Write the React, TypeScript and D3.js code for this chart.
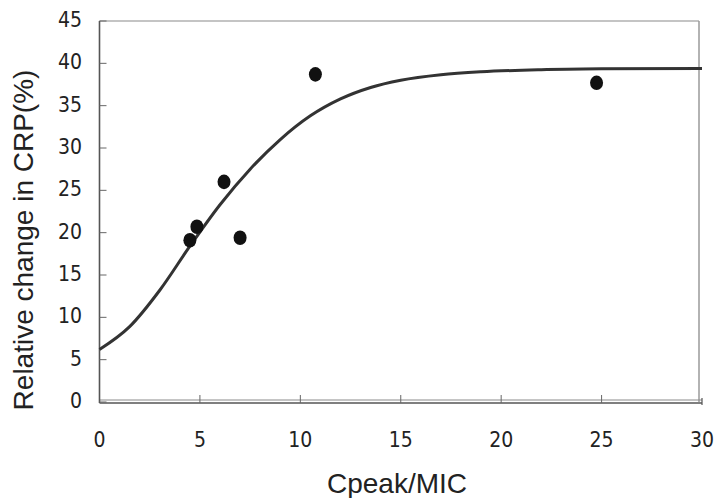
import React from 'react';
import * as d3 from 'd3';

// observed points (Cpeak/MIC vs relative CRP change)
const ratioValues = [4.5, 4.85, 6.2, 7.0, 10.75, 24.75];
const crpValues = [19.1, 20.7, 26.0, 19.4, 38.7, 37.7];

// fitted curve
const fitX = [0, 1.5, 3, 4.5, 6, 7.5, 9, 10.5, 12, 13.5, 15, 17, 19, 22, 25, 30];
const fitY = [6.2, 8.9, 13.2, 18.4, 23.3, 27.5, 31.0, 33.8, 35.8, 37.15, 38.0, 38.65, 39.0, 39.25, 39.35, 39.4];

const xTicks = [0, 5, 10, 15, 20, 25, 30];
const yTicks = [0, 5, 10, 15, 20, 25, 30, 35, 40, 45];

const width = 716;
const height = 498;
const tickFont = '"Liberation Sans Narrow", "DejaVu Sans Condensed", sans-serif';

const App = () => {
  const x = d3.scaleLinear().domain([0, 30]).range([99.5, 702]);
  const y = d3.scaleLinear().domain([0, 45]).range([402, 21]);

  const line = d3
    .line<number>()
    .x((d) => x(d))
    .y((_, i) => y(fitY[i]))
    .curve(d3.curveMonotoneX);

  return (
    <svg
      width={width}
      height={height}
      style={{ position: 'absolute', left: 0, top: 0, background: '#fff' }}
    >
      {/* frame */}
      <line x1={x(0)} x2={x(30) - 3} y1={y(45)} y2={y(45)} stroke="#8a8a8a" strokeWidth={1.2} />
      <line x1={x(30) - 3} x2={x(30) - 3} y1={y(45)} y2={y(0)} stroke="#9a9a9a" strokeWidth={1.5} />
      <line x1={x(0)} x2={x(30)} y1={y(0) - 2} y2={y(0) - 2} stroke="#8a8a8a" strokeWidth={1} />
      <line x1={x(0)} x2={x(30)} y1={y(0) + 1} y2={y(0) + 1} stroke="#555" strokeWidth={1.5} />
      <line x1={x(30)} x2={x(30)} y1={y(0) - 4} y2={y(0) + 3} stroke="#555" strokeWidth={1.2} />
      <line x1={x(0)} x2={x(0)} y1={y(45)} y2={y(0) + 1} stroke="#555" strokeWidth={1.6} />

      {/* y ticks */}
      {yTicks.map((t) => (
        <g key={'y' + t}>
          <line x1={x(0)} x2={x(0) + 7} y1={y(t)} y2={y(t)} stroke="#666" strokeWidth={1} />
          <text
            x={82}
            y={y(t)}
            textAnchor="end"
            dominantBaseline="middle"
            fontFamily={tickFont}
            fontSize={21}
            fill="#222"
          >
            {t}
          </text>
        </g>
      ))}

      {/* x ticks */}
      {xTicks.map((t) => (
        <g key={'x' + t}>
          {t > 0 && t < 30 && (
            <line x1={x(t)} x2={x(t)} y1={y(0) - 7} y2={y(0) + 1} stroke="#666" strokeWidth={1} />
          )}
          <text x={x(t)} y={447} textAnchor="middle" fontFamily={tickFont} fontSize={21} fill="#222">
            {t}
          </text>
        </g>
      ))}

      {/* fitted curve */}
      <path d={line(fitX) || ''} fill="none" stroke="#333" strokeWidth={3} />

      {/* observed points */}
      {ratioValues.map((r, i) => (
        <ellipse key={'p' + i} cx={x(r)} cy={y(crpValues[i])} rx={6.5} ry={7.3} fill="#111" />
      ))}

      {/* axis titles */}
      <text
        x={397}
        y={493}
        textAnchor="middle"
        fontFamily='"Liberation Sans", Arial, sans-serif'
        fontSize={28}
        fill="#222"
      >
        Cpeak/MIC
      </text>
      <text
        transform="translate(33,240) rotate(-90)"
        textAnchor="middle"
        fontFamily='"Liberation Sans", Arial, sans-serif'
        fontSize={28}
        fill="#222"
      >
        Relative change in CRP(%)
      </text>
    </svg>
  );
};

export default App;
